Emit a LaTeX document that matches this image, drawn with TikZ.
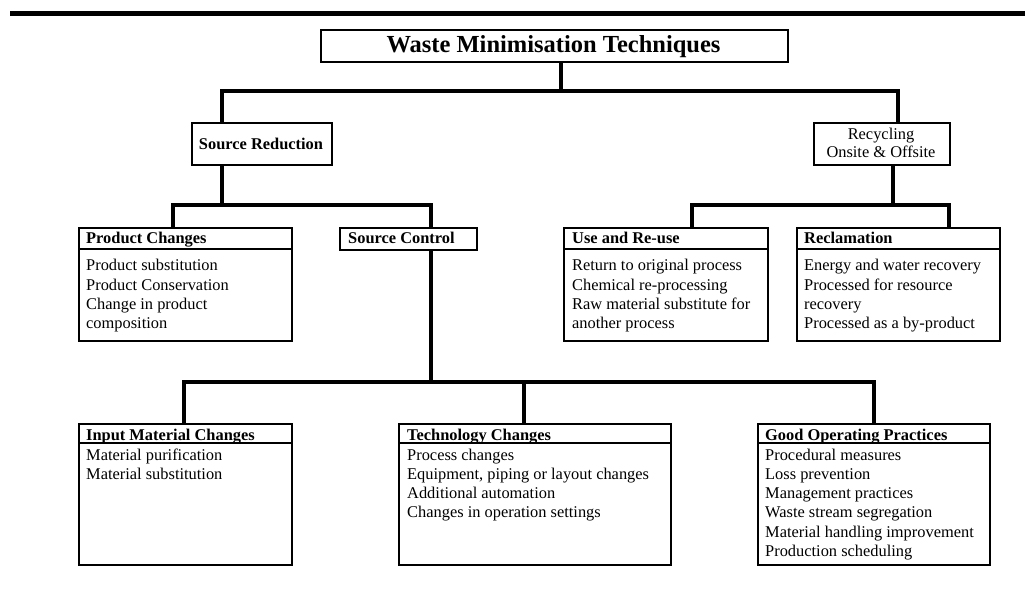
\documentclass[tikz,border=0pt]{standalone}
\usepackage{fontspec}
\setmainfont{Liberation Serif}
\begin{document}
\begin{tikzpicture}[x=1pt,y=1pt,
  box/.style={draw, line width=1.6pt, inner sep=0pt, anchor=north west},
  conn/.style={line width=4pt, line join=miter},
  sep/.style={line width=1.6pt},
  hdr/.style={anchor=base west, inner sep=0pt, font=\fontsize{16.4}{19.3}\selectfont\bfseries},
  body/.style={anchor=base west, inner sep=0pt, font=\fontsize{16.4}{19.3}\selectfont}]
\useasboundingbox[fill=white] (0,0) rectangle (1025,-612);
% top rule
\draw[line width=5pt] (10,-14) -- (1025,-14);

% title
\node[box, line width=2.2pt, minimum width=467pt, minimum height=32pt] (title) at (320,-29) {};
\node[anchor=base, inner sep=0pt, font=\fontsize{24.5}{28}\selectfont\bfseries] (titletext) at (553.5,-53) {Waste Minimisation Techniques};

% level 1
\node[box, minimum width=140pt, minimum height=42pt] (sr) at (191,-122) {};
\node[anchor=base, inner sep=0pt, font=\fontsize{16.4}{19.3}\selectfont\bfseries] (srtext) at (261,-150) {Source Reduction};
\node[box, minimum width=136pt, minimum height=42pt] (rec) at (813,-122) {};
\node[anchor=base, inner sep=0pt, font=\fontsize{16.4}{18}\selectfont] (rectext) at (881,-140) {\parbox[t]{130pt}{\centering Recycling\\Onsite \& Offsite}};

% level 2
\node[box, minimum width=213pt, minimum height=113pt] (pc) at (78,-227) {};
\draw[sep] (pc.west |- 0,-249) -- (pc.east |- 0,-249);
\node[hdr] (pch) at (86,-244) {Product Changes};
\node[body] (pcb) at (86,-271) {\parbox[t]{200pt}{Product substitution\\Product Conservation\\Change in product\\composition}};

\node[box, minimum width=137pt, minimum height=22pt] (sc) at (339,-227) {};
\node[hdr] (sch) at (348,-244) {Source Control};

\node[box, minimum width=204pt, minimum height=113pt] (ur) at (563,-227) {};
\draw[sep] (ur.west |- 0,-249) -- (ur.east |- 0,-249);
\node[hdr] (urh) at (572,-244) {Use and Re-use};
\node[body] (urb) at (572,-271) {\parbox[t]{195pt}{Return to original process\\Chemical re-processing\\Raw material substitute for\\another process}};

\node[box, minimum width=203pt, minimum height=113pt] (rcl) at (796,-227) {};
\draw[sep] (rcl.west |- 0,-249) -- (rcl.east |- 0,-249);
\node[hdr] (rclh) at (804,-244) {Reclamation};
\node[body] (rclb) at (804,-271) {\parbox[t]{195pt}{Energy and water recovery\\Processed for resource\\recovery\\Processed as a by-product}};

% level 3
\node[box, minimum width=213pt, minimum height=141pt] (im) at (78,-423) {};
\draw[sep] (im.west |- 0,-443) -- (im.east |- 0,-443);
\node[hdr] (imh) at (86,-440) {Input Material Changes};
\node[body] (imb) at (86,-460) {\parbox[t]{200pt}{Material purification\\Material substitution}};

\node[box, minimum width=272pt, minimum height=141pt] (tc) at (398,-423) {};
\draw[sep] (tc.west |- 0,-443) -- (tc.east |- 0,-443);
\node[hdr] (tch) at (407,-440) {Technology Changes};
\node[body] (tcb) at (407,-460) {\parbox[t]{260pt}{Process changes\\Equipment, piping or layout changes\\Additional automation\\Changes in operation settings}};

\node[box, minimum width=232pt, minimum height=141pt] (go) at (757,-423) {};
\draw[sep] (go.west |- 0,-443) -- (go.east |- 0,-443);
\node[hdr] (goh) at (765,-440) {Good Operating Practices};
\node[body] (gob) at (765,-460) {\parbox[t]{220pt}{Procedural measures\\Loss prevention\\Management practices\\Waste stream segregation\\Material handling improvement\\Production scheduling}};

% connectors
\coordinate (t1) at (561,-91);
\coordinate (l1) at (222,-91);
\coordinate (r1) at (898,-91);
\draw[conn] (title.south -| t1) -- (t1);
\draw[conn] (sr.north -| l1) -- (l1) -- (r1) -- (rec.north -| r1);

\coordinate (l2) at (222,-205);
\coordinate (pc2) at (173,-205);
\coordinate (sc2) at (431,-205);
\draw[conn] (sr.south -| l2) -- (l2);
\draw[conn] (pc.north -| pc2) -- (pc2) -- (sc2) -- (sc.north -| sc2);

\coordinate (r2) at (893,-205);
\coordinate (ur2) at (692,-205);
\coordinate (rc2) at (949,-205);
\draw[conn] (rec.south -| r2) -- (r2);
\draw[conn] (ur.north -| ur2) -- (ur2) -- (rc2) -- (rcl.north -| rc2);

\coordinate (s3) at (431,-382);
\coordinate (im3) at (184,-382);
\coordinate (tc3) at (524,-382);
\coordinate (go3) at (874,-382);
\draw[conn] (sc.south -| s3) -- (s3);
\draw[conn] (im.north -| im3) -- (im3) -- (go3) -- (go.north -| go3);
\draw[conn] (tc3) -- (tc.north -| tc3);
\end{tikzpicture}
\end{document}
